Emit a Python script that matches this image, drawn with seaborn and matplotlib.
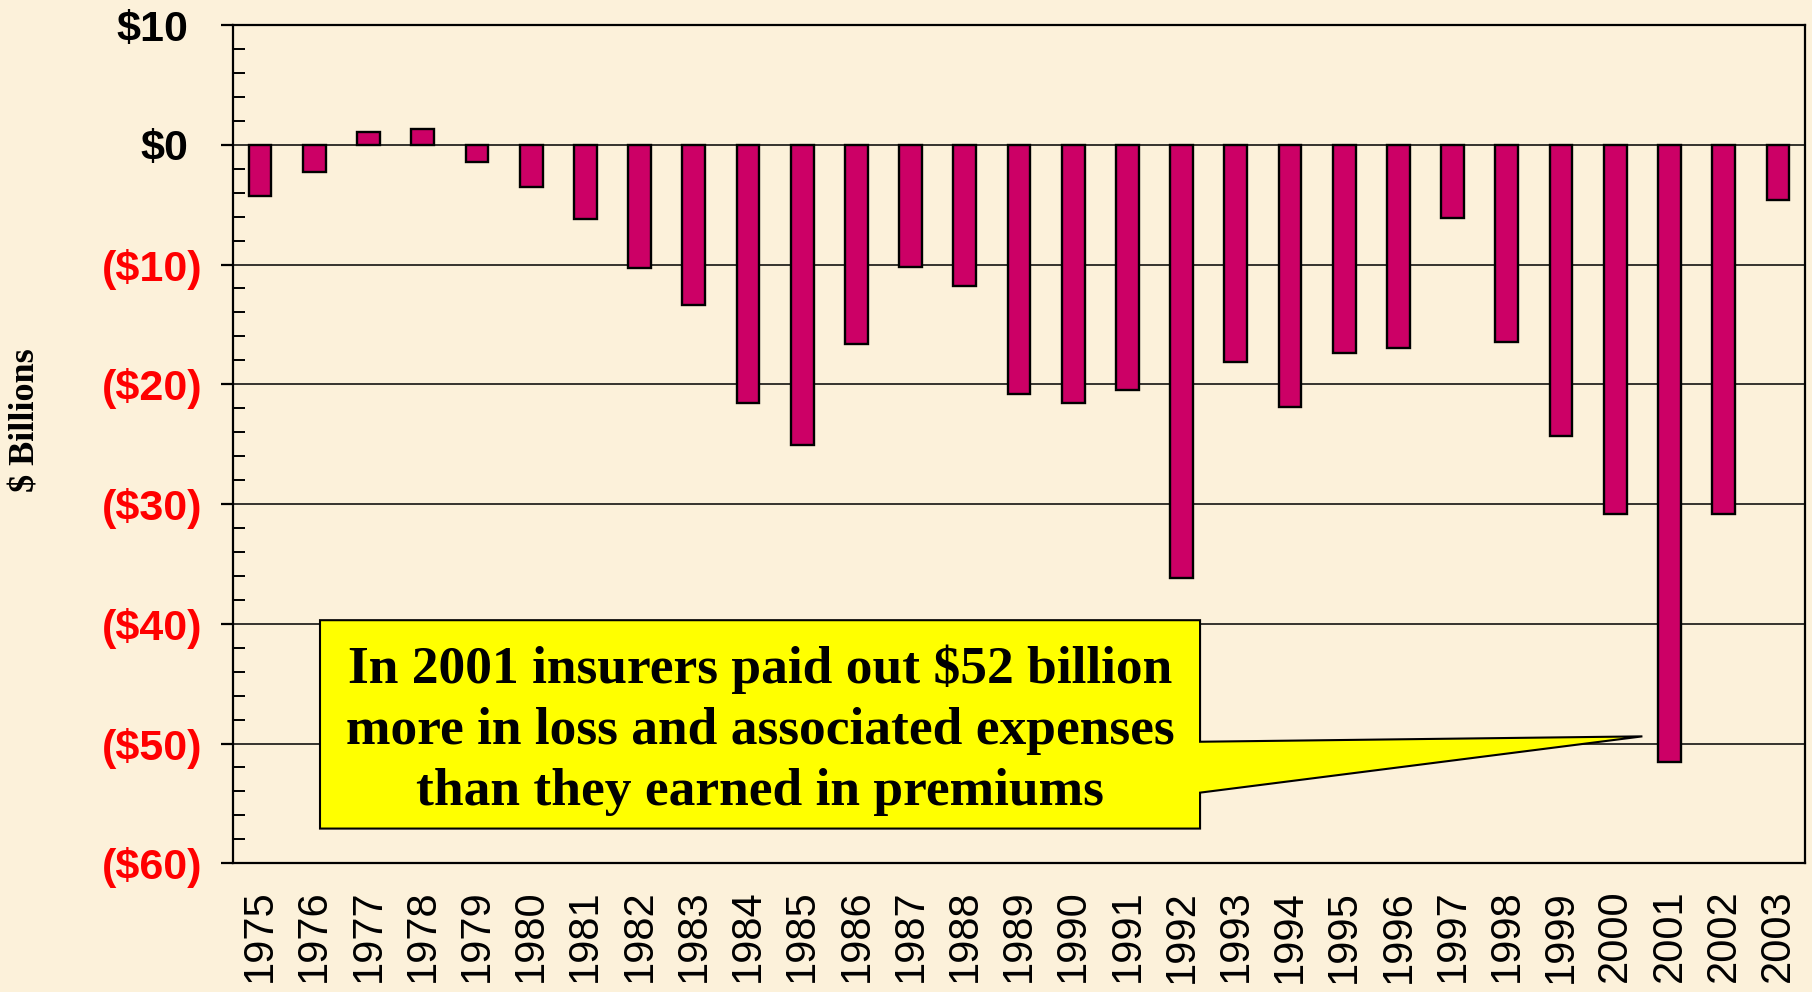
import matplotlib
matplotlib.use("Agg")
import matplotlib.pyplot as plt
import matplotlib.transforms as mtransforms
from matplotlib.patches import Polygon
import seaborn as sns
import pandas as pd
import numpy as np

years = [str(y) for y in range(1975, 2004)]
values = [-4.3, -2.3, 1.1, 1.3, -1.4, -3.5, -6.2, -10.3, -13.4, -21.6,
          -25.1, -16.6, -10.2, -11.8, -20.8, -21.6, -20.5, -36.2, -18.1, -21.9,
          -17.4, -17.0, -6.1, -16.5, -24.3, -30.8, -51.5, -30.8, -4.6]
ytick_vals = [10, 0, -10, -20, -30, -40, -50, -60]
ytick_labels = ["$10", "$0", "($10)", "($20)", "($30)", "($40)", "($50)", "($60)"]
callout_text = ("In 2001 insurers paid out $52 billion\n"
                "more in loss and associated expenses\n"
                "than they earned in premiums")
ylabel_text = "$ Billions"

bg = "#FCF1DA"
bar_color = "#CC0066"

sns.set_theme(style="white")
plt.rcParams["font.family"] = ["Liberation Sans", "DejaVu Sans"]

df = pd.DataFrame({"year": years, "value": values})

fig = plt.figure(figsize=(18.12, 9.92), dpi=100, facecolor=bg)
ax = fig.add_axes([233 / 1812, 1 - 863.3 / 992, 1572 / 1812, (863.3 - 25) / 992])
ax.set_facecolor(bg)

sns.barplot(data=df, x="year", y="value", color=bar_color, saturation=1,
            width=0.42, edgecolor="black", linewidth=1.7, ax=ax, zorder=3)

ax.set_ylim(-60, 10)
ax.set_xlim(-0.5, len(years) - 0.5)
ax.set_yticks(ytick_vals)
ax.set_yticklabels(ytick_labels)
ax.set_yticks(np.arange(-60, 10, 2), minor=True)
ax.set_xlabel("")
ax.set_ylabel("")

for y in ytick_vals:
    ax.axhline(y, color="black", lw=1.1, zorder=1)

for s in ax.spines.values():
    s.set_visible(True)
    s.set_color("black")
    s.set_linewidth(1.6)

ytick_fs = 31
ax.tick_params(axis="y", which="major", direction="out", length=8.6, width=1.6,
               color="black", pad=13.5, left=True)
ax.tick_params(axis="y", which="minor", direction="in", length=8.6, width=1.4,
               color="black", left=True)
ax.tick_params(axis="x", length=0, pad=19)

for lab, v in zip(ax.get_yticklabels(), ytick_vals):
    lab.set_fontsize(ytick_fs)
    lab.set_fontweight("bold")
    lab.set_fontfamily(["Liberation Sans", "DejaVu Sans"])
    lab.set_color("black" if v >= 0 else "#FF0000")
    if v >= 0:
        off = mtransforms.ScaledTranslation(-0.333 * ytick_fs / 72, 0, fig.dpi_scale_trans)
        lab.set_transform(lab.get_transform() + off)

for lab in ax.get_xticklabels():
    lab.set_rotation(90)
    lab.set_fontsize(30)
    lab.set_color("black")
    lab.set_fontfamily(["Liberation Sans", "DejaVu Sans"])

ax.set_ylabel(ylabel_text, fontsize=26, fontweight="bold",
              fontfamily=["Liberation Serif", "DejaVu Serif"], color="black")
ax.yaxis.label.set_va("center")
ax.yaxis.set_label_coords((26 - 233) / 1572, (863.3 - 420) / (863.3 - 25))

# Callout box with pointer (data coordinates)
bl, br, bt, bb = 1.105, 17.34, -39.7, -57.1
p_top, p_bot = -49.85, -54.1
tip = (25.5, -49.4)
verts = [(bl, bt), (br, bt), (br, p_top), tip, (br, p_bot), (br, bb), (bl, bb)]
poly = Polygon(verts, closed=True, facecolor="#FFFF00", edgecolor="black",
               linewidth=1.5, zorder=5)
ax.add_patch(poly)
ax.text((bl + br) / 2, -48.9, callout_text, ha="center", va="center",
        fontsize=38.5, fontweight="bold", fontfamily=["Liberation Serif", "DejaVu Serif"],
        color="black", linespacing=1.35, zorder=6)

fig.savefig("out.png", dpi=100, facecolor=bg)
